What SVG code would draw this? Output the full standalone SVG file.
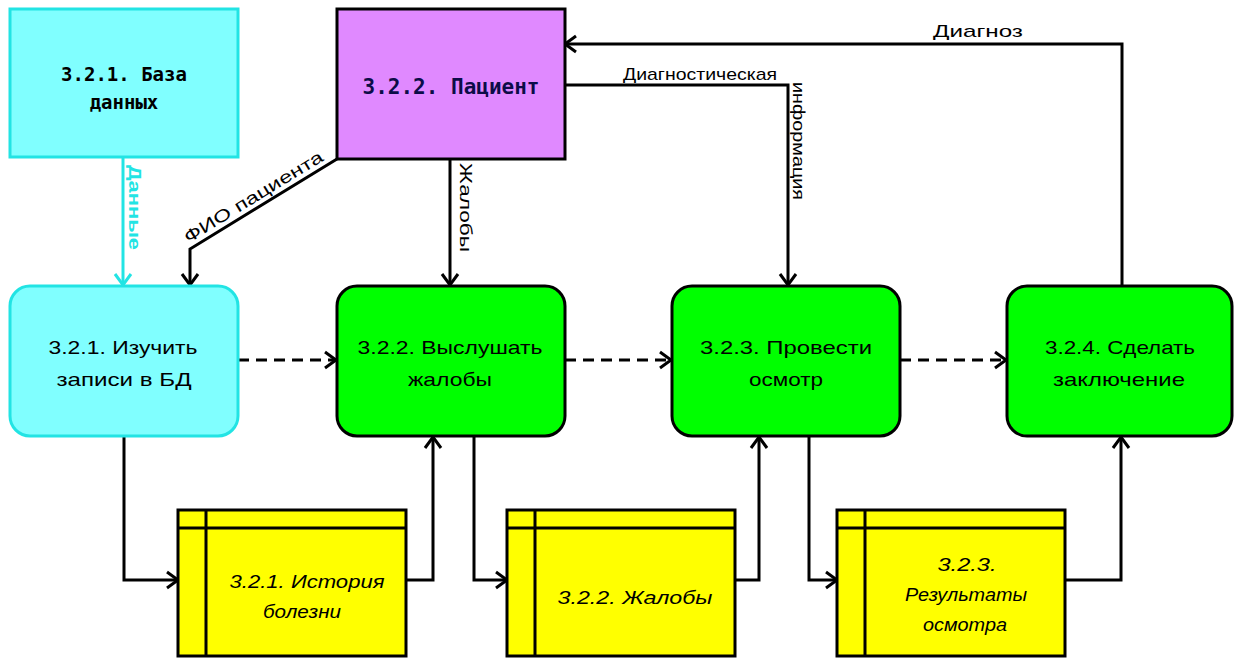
<svg xmlns="http://www.w3.org/2000/svg" width="1236" height="659" viewBox="0 0 1236 659">
  <style>
    .ext { stroke-width: 3; }
    .proc { stroke: #000; stroke-width: 3; fill: #00ff00; }
    .store { fill: #ffff00; stroke: #000; stroke-width: 3; }
    .store-line { stroke: #000; stroke-width: 3; fill: none; }
    .t-bold { font-family: "DejaVu Sans Mono", "Liberation Mono", monospace; font-weight: bold; text-anchor: middle; fill: #000; }
    .t-proc { font-family: "Liberation Sans", "DejaVu Sans", sans-serif; font-size: 19px; text-anchor: middle; fill: #000; }
    .t-store { font-family: "Liberation Sans", "DejaVu Sans", sans-serif; font-size: 19px; font-style: italic; text-anchor: middle; fill: #000; }
    .t-lbl { font-family: "Liberation Sans", "DejaVu Sans", sans-serif; font-size: 17px; fill: #000; }
    .t-cyan { fill: #22e4e4; font-weight: bold; }
    .t-navy { fill: #0c0c48; }
    .flow { stroke: #000; stroke-width: 3; fill: none; }
    .flow-c { stroke: #22e4e4; stroke-width: 3; fill: none; }
    .dashed { stroke: #000; stroke-width: 3; fill: none; stroke-dasharray: 11 7; }
  </style>
  <defs>
    <marker id="arr" markerUnits="userSpaceOnUse" markerWidth="16" markerHeight="20" refX="13" refY="10" orient="auto">
      <path d="M2,2 L13,10 L2,18" fill="none" stroke="#000" stroke-width="3"/>
    </marker>
    <marker id="arr-c" markerUnits="userSpaceOnUse" markerWidth="16" markerHeight="20" refX="13" refY="10" orient="auto">
      <path d="M2,2 L13,10 L2,18" fill="none" stroke="#22e4e4" stroke-width="3"/>
    </marker>
  </defs>

  <rect width="1236" height="659" fill="#ffffff"/>

  <!-- connectors -->
  <g id="connectors">
    <!-- data from the database -->
    <path class="flow-c" d="M123,157 L123,285" marker-end="url(#arr-c)"/>
    <!-- patient name -->
    <path class="flow" d="M337,159 L190,249 L190,285" marker-end="url(#arr)"/>
    <!-- complaints -->
    <path class="flow" d="M450,159 L450,285" marker-end="url(#arr)"/>
    <!-- diagnostic information -->
    <path class="flow" d="M565,85 L788,85 L788,285" marker-end="url(#arr)"/>
    <!-- diagnosis -->
    <path class="flow" d="M1122,285 L1122,44 L565,44" marker-end="url(#arr)"/>

    <!-- sequence between processes -->
    <path class="dashed" d="M238,360 L336,360" marker-end="url(#arr)"/>
    <path class="dashed" d="M565,360 L671,360" marker-end="url(#arr)"/>
    <path class="dashed" d="M900,360 L1006,360" marker-end="url(#arr)"/>

    <!-- stores -->
    <path class="flow" d="M124,436 L124,580 L178,580" marker-end="url(#arr)"/>
    <path class="flow" d="M406,580 L433,580 L433,437" marker-end="url(#arr)"/>
    <path class="flow" d="M474,436 L474,580 L507,580" marker-end="url(#arr)"/>
    <path class="flow" d="M735,580 L759,580 L759,437" marker-end="url(#arr)"/>
    <path class="flow" d="M809,436 L809,580 L837,580" marker-end="url(#arr)"/>
    <path class="flow" d="M1065,580 L1121,580 L1121,437" marker-end="url(#arr)"/>

    <!-- flow labels -->
    <text class="t-lbl" x="978" y="37" text-anchor="middle" textLength="90" lengthAdjust="spacingAndGlyphs">Диагноз</text>
    <text class="t-lbl" x="700" y="80" text-anchor="middle" font-size="16" textLength="154" lengthAdjust="spacingAndGlyphs">Диагностическая</text>
    <text class="t-lbl" font-size="16" transform="translate(793,82) rotate(90)" textLength="118" lengthAdjust="spacingAndGlyphs">информация</text>
    <text class="t-lbl" font-size="18" transform="translate(460,163) rotate(90)" textLength="89" lengthAdjust="spacingAndGlyphs">Жалобы</text>
    <text class="t-lbl t-cyan" font-size="18" transform="translate(129,165) rotate(90)" textLength="85" lengthAdjust="spacingAndGlyphs">Данные</text>
    <text class="t-lbl" font-size="18" text-anchor="middle" transform="translate(259,206) rotate(-31.5)" y="-5" textLength="160" lengthAdjust="spacingAndGlyphs">ФИО пациента</text>
  </g>

  <!-- external entities -->
  <g id="ext-db">
    <rect x="10" y="9" width="228" height="148" fill="#80ffff" stroke="#22e4e4" class="ext"/>
    <text class="t-bold" x="124" y="81" font-size="19">3.2.1. База</text>
    <text class="t-bold" x="124" y="109" font-size="19">данных</text>
  </g>
  <g id="ext-patient">
    <rect x="337" y="9" width="228" height="150" fill="#e089ff" stroke="#000" class="ext"/>
    <text class="t-bold t-navy" x="451" y="94" font-size="21">3.2.2. Пациент</text>
  </g>

  <!-- processes -->
  <g id="proc-1">
    <rect x="10" y="286" width="228" height="150" rx="20" fill="#80ffff" stroke="#22e4e4" stroke-width="3"/>
    <text class="t-proc" x="123" y="354" textLength="149" lengthAdjust="spacingAndGlyphs">3.2.1. Изучить</text>
    <text class="t-proc" x="124" y="386" textLength="135" lengthAdjust="spacingAndGlyphs">записи в БД</text>
  </g>
  <g id="proc-2">
    <rect class="proc" x="337" y="286" width="228" height="150" rx="20"/>
    <text class="t-proc" x="450" y="354" textLength="185" lengthAdjust="spacingAndGlyphs">3.2.2. Выслушать</text>
    <text class="t-proc" x="450" y="386" textLength="84" lengthAdjust="spacingAndGlyphs">жалобы</text>
  </g>
  <g id="proc-3">
    <rect class="proc" x="672" y="286" width="228" height="150" rx="20"/>
    <text class="t-proc" x="786" y="354" textLength="172" lengthAdjust="spacingAndGlyphs">3.2.3. Провести</text>
    <text class="t-proc" x="786" y="386" textLength="74" lengthAdjust="spacingAndGlyphs">осмотр</text>
  </g>
  <g id="proc-4">
    <rect class="proc" x="1007" y="286" width="225" height="150" rx="20"/>
    <text class="t-proc" x="1120" y="354" textLength="150" lengthAdjust="spacingAndGlyphs">3.2.4. Сделать</text>
    <text class="t-proc" x="1119" y="386" textLength="132" lengthAdjust="spacingAndGlyphs">заключение</text>
  </g>

  <!-- data stores -->
  <g id="store-1">
    <rect class="store" x="178" y="510" width="228" height="146"/>
    <path class="store-line" d="M178,528 L406,528 M206,510 L206,656"/>
    <text class="t-store" x="307" y="588" textLength="155" lengthAdjust="spacingAndGlyphs">3.2.1. История</text>
    <text class="t-store" x="302" y="618" textLength="78" lengthAdjust="spacingAndGlyphs">болезни</text>
  </g>
  <g id="store-2">
    <rect class="store" x="507" y="510" width="228" height="146"/>
    <path class="store-line" d="M507,528 L735,528 M535,510 L535,656"/>
    <text class="t-store" x="635" y="604" textLength="155" lengthAdjust="spacingAndGlyphs">3.2.2. Жалобы</text>
  </g>
  <g id="store-3">
    <rect class="store" x="837" y="510" width="228" height="146"/>
    <path class="store-line" d="M837,528 L1065,528 M865,510 L865,656"/>
    <text class="t-store" x="967" y="571" textLength="59" lengthAdjust="spacingAndGlyphs">3.2.3.</text>
    <text class="t-store" x="966" y="601" textLength="122" lengthAdjust="spacingAndGlyphs">Результаты</text>
    <text class="t-store" x="965" y="631" textLength="84" lengthAdjust="spacingAndGlyphs">осмотра</text>
  </g>
</svg>
